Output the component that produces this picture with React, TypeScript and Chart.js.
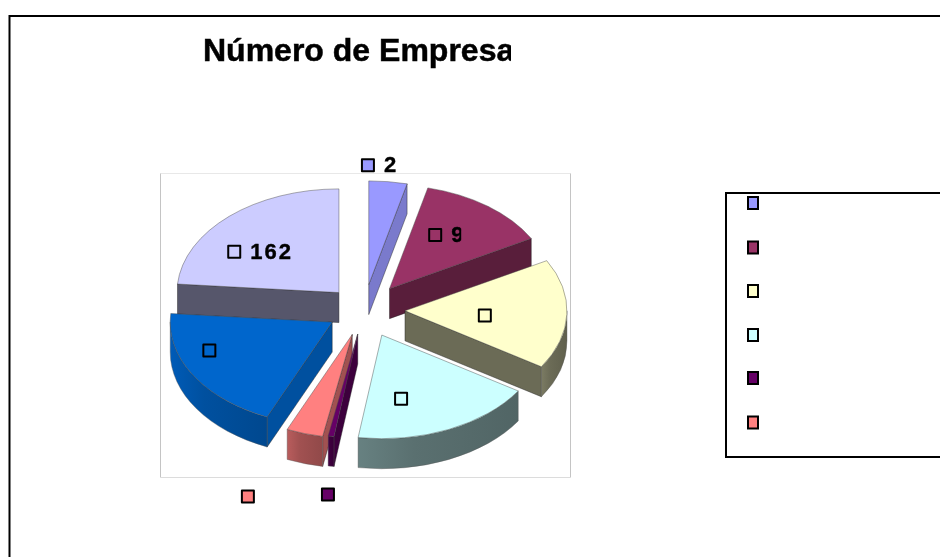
import React, { useEffect, useRef } from "react";
import { Chart, registerables } from "chart.js";

Chart.register(...registerables);

// Data
const titleText = "Número de Empresa";
const sliceValues = [26, 90, 117, 125, 4, 25, 135, 162];
const sliceLabels = ["2", "9", "", "", "", "", "", "162"];
const sliceColors = ["#9999FF", "#993366", "#FFFFCC", "#CCFFFF", "#660066", "#FF8080", "#0066CC", "#CCCCFF"];
const sideShades = [0.8, 0.58, 0.42, 0.44, 0.6, 0.63, 0.78, 0.42];
const sliceExplosion = [40, 42, 41, 43, 38, 40, 37, 37];
const legendCount = 6;

// Layout
const WIDTH = 940;
const HEIGHT = 557;
const RADIUS = 162;
const TILT = 0.64;
const DEPTH = 30;
const paintOrder = [0, 7, 1, 2, 6, 3, 5, 4];
// Label anchor, relative to each slice: turn from mid-angle (deg) and share of radius
const labelTurn = [-7.1, -8.8, 3.5, 13.5, -2.7, 5.3, 11, -16];
const labelReach = [1.15, 0.59, 0.495, 0.625, 1.56, 1.69, 0.806, 0.757];
// The reference cuts its labels off at a fixed width after the key
const labelClip = [50, 26, 0, 0, 0, 0, 0, 60];
const legendRows = [203, 247.5, 291, 335, 378, 422.5];

function shade(hex: string, f: number) {
  const n = parseInt(hex.slice(1), 16);
  const c = (v: number) => Math.round(v * f);
  return `rgb(${c((n >> 16) & 255)},${c((n >> 8) & 255)},${c(n & 255)})`;
}

function marker(ctx: CanvasRenderingContext2D, cx: number, cy: number, w: number, h: number, fill: string) {
  ctx.fillStyle = fill;
  ctx.strokeStyle = "#000";
  ctx.lineWidth = 2;
  ctx.fillRect(cx - w / 2, cy - h / 2, w, h);
  ctx.strokeRect(cx - w / 2, cy - h / 2, w, h);
}

const frame3d = {
  id: "frame3d",
  beforeDraw(chart: any) {
    const { ctx } = chart;
    ctx.save();
    ctx.fillStyle = "#fff";
    ctx.fillRect(0, 0, WIDTH, HEIGHT);
    // outer chart frame, running off the page
    ctx.strokeStyle = "#000";
    ctx.lineWidth = 2;
    ctx.beginPath();
    ctx.moveTo(WIDTH + 2, 16);
    ctx.lineTo(9.5, 16);
    ctx.lineTo(9.5, HEIGHT + 2);
    ctx.stroke();
    // plot backdrop
    ctx.lineWidth = 1;
    ctx.strokeStyle = "#e8e8e8";
    ctx.beginPath();
    ctx.moveTo(160.5, 173.5);
    ctx.lineTo(570.5, 173.5);
    ctx.stroke();
    ctx.strokeStyle = "#c4c4c4";
    ctx.beginPath();
    ctx.moveTo(160.5, 173.5);
    ctx.lineTo(160.5, 477.5);
    ctx.moveTo(570.5, 173.5);
    ctx.lineTo(570.5, 477.5);
    ctx.stroke();
    ctx.strokeStyle = "#dcdcdc";
    ctx.beginPath();
    ctx.moveTo(160.5, 477.5);
    ctx.lineTo(570.5, 477.5);
    ctx.stroke();
    // title, cut off like the reference
    ctx.save();
    ctx.beginPath();
    ctx.rect(0, 0, 511, HEIGHT);
    ctx.clip();
    ctx.fillStyle = "#000";
    ctx.strokeStyle = "#000";
    ctx.lineWidth = 0.5;
    ctx.font = "bold 32px 'Liberation Sans', Arial, sans-serif";
    ctx.textBaseline = "alphabetic";
    ctx.fillText(titleText, 203, 61);
    ctx.strokeText(titleText, 203, 61);
    ctx.restore();
    // legend box
    ctx.strokeStyle = "#000";
    ctx.lineWidth = 2;
    ctx.beginPath();
    ctx.moveTo(WIDTH + 2, 193);
    ctx.lineTo(726, 193);
    ctx.lineTo(726, 457);
    ctx.lineTo(WIDTH + 2, 457);
    ctx.stroke();
    sliceColors.slice(0, legendCount).forEach((color, i) => {
      marker(ctx, 753, legendRows[i], 10, 12, color);
    });
    ctx.restore();
  },
  beforeDatasetDraw(chart: any) {
    const { ctx } = chart;
    const arcs = chart.getDatasetMeta(0).data;
    const cy = (chart.chartArea.top + chart.chartArea.bottom) / 2;
    const geom = arcs.map((el: any) => {
      const p = el.getProps(["x", "y", "startAngle", "endAngle", "outerRadius"], true);
      const mid = (p.startAngle + p.endAngle) / 2;
      const off = el.options.offset;
      return {
        ax: p.x + Math.cos(mid) * off,
        ay: cy + Math.sin(mid) * off * TILT,
        s: p.startAngle,
        e: p.endAngle,
        mid,
        r: p.outerRadius,
      };
    });
    ctx.save();
    ctx.lineJoin = "round";
    for (const i of paintOrder) {
      const g = geom[i];
      const col = sliceColors[i];
      const side = shade(col, sideShades[i]);
      const rim = (a: number) => [g.ax + Math.cos(a) * g.r, g.ay + Math.sin(a) * g.r * TILT];
      const wall = (a: number) => {
        const [x, y] = rim(a);
        ctx.beginPath();
        ctx.moveTo(g.ax, g.ay);
        ctx.lineTo(x, y);
        ctx.lineTo(x, y + DEPTH);
        ctx.lineTo(g.ax, g.ay + DEPTH);
        ctx.closePath();
        ctx.fillStyle = side;
        ctx.fill();
        ctx.strokeStyle = "rgba(30,30,30,0.55)";
        ctx.lineWidth = 0.8;
        ctx.stroke();
      };
      if (Math.sin(g.e + Math.PI / 2) > 0) wall(g.e);
      if (Math.sin(g.s + Math.PI / 2) < 0) wall(g.s);
      const a0 = Math.max(g.s, 0);
      const a1 = Math.min(g.e, Math.PI);
      if (a1 > a0) {
        const [x0] = rim(a0);
        const [x1] = rim(a1);
        const grad = ctx.createLinearGradient(x1, 0, x0, 0);
        grad.addColorStop(0, shade(col, sideShades[i] * 1.15));
        grad.addColorStop(0.35, side);
        grad.addColorStop(1, shade(col, sideShades[i] * 0.9));
        ctx.beginPath();
        ctx.ellipse(g.ax, g.ay, g.r, g.r * TILT, 0, a0, a1);
        ctx.ellipse(g.ax, g.ay + DEPTH, g.r, g.r * TILT, 0, a1, a0, true);
        ctx.closePath();
        ctx.fillStyle = grad;
        ctx.fill();
        ctx.strokeStyle = "rgba(90,90,90,0.5)";
        ctx.lineWidth = 0.8;
        ctx.stroke();
      }
      ctx.beginPath();
      ctx.moveTo(g.ax, g.ay);
      ctx.ellipse(g.ax, g.ay, g.r, g.r * TILT, 0, g.s, g.e);
      ctx.closePath();
      ctx.fillStyle = col;
      ctx.fill();
      ctx.strokeStyle = "rgba(70,70,70,0.55)";
      ctx.lineWidth = 0.8;
      ctx.stroke();
    }
    // data labels: square key plus value
    geom.forEach((g: any, i: number) => {
      const a = g.mid + (labelTurn[i] * Math.PI) / 180;
      const d = g.r * labelReach[i];
      const x = g.ax + Math.cos(a) * d;
      const y = g.ay + Math.sin(a) * d * TILT;
      marker(ctx, x, y, 12, 12, sliceColors[i]);
      if (sliceLabels[i]) {
        ctx.save();
        ctx.beginPath();
        ctx.rect(x, y - 20, labelClip[i], 40);
        ctx.clip();
        ctx.fillStyle = "#000";
        ctx.strokeStyle = "#000";
        ctx.lineWidth = 0.4;
        ctx.font = "bold 22px 'Liberation Sans', Arial, sans-serif";
        (ctx as any).letterSpacing = "2px";
        ctx.textBaseline = "middle";
        ctx.fillText(sliceLabels[i], x + 16, y + 1);
        ctx.strokeText(sliceLabels[i], x + 16, y + 1);
        ctx.restore();
      }
    });
    ctx.restore();
    return false;
  },
};

export default function App() {
  const ref = useRef<HTMLCanvasElement | null>(null);
  useEffect(() => {
    document.body.style.margin = "0";
    const chart = new Chart(ref.current as HTMLCanvasElement, {
      type: "pie",
      data: {
        labels: sliceLabels,
        datasets: [
          {
            data: sliceValues,
            backgroundColor: sliceColors,
            offset: sliceExplosion,
            borderWidth: 0,
          } as any,
        ],
      },
      options: {
        responsive: false,
        animation: false,
        events: [],
        radius: RADIUS,
        layout: { padding: { left: 0, right: 212, top: 63, bottom: 0 } },
        plugins: { legend: { display: false }, title: { display: false }, tooltip: { enabled: false } },
      } as any,
      plugins: [frame3d],
    });
    return () => chart.destroy();
  }, []);
  return (
    <canvas
      ref={ref}
      width={WIDTH}
      height={HEIGHT}
      style={{ display: "block", width: WIDTH, height: HEIGHT, filter: "blur(0.7px)" }}
    />
  );
}
